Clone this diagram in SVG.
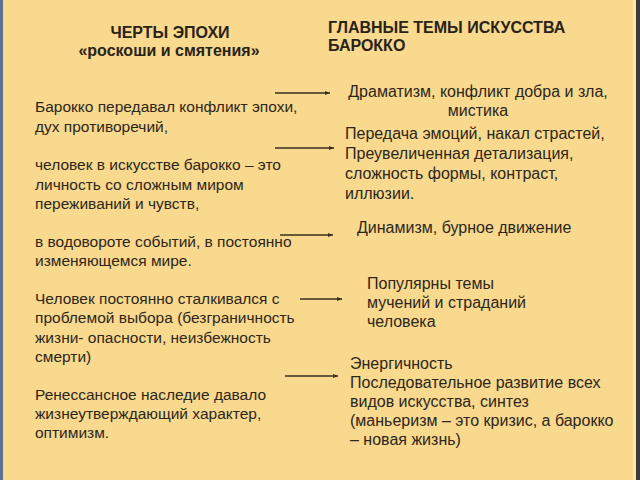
<svg xmlns="http://www.w3.org/2000/svg" width="640" height="480" viewBox="0 0 640 480">
<defs>
<marker id="ah" markerWidth="6" markerHeight="6" refX="5" refY="3" orient="auto" markerUnits="userSpaceOnUse">
<path d="M0,1 L5,3 L0,5 Z" fill="#3a2e20"/>
</marker>
<style>
.t{font-family:"Liberation Sans",Arial,sans-serif;font-size:15.5px;fill:#2e261b}
.r{font-family:"Liberation Sans",Arial,sans-serif;font-size:16px;fill:#2e261b}
.h{font-family:"Liberation Sans",Arial,sans-serif;font-size:16px;font-weight:bold;fill:#2a2218}
.c{stroke:#3a2e20;stroke-width:1.3;fill:none;marker-end:url(#ah)}
</style>
</defs>
<rect width="640" height="480" fill="#f8d98e"/>
<rect x="0" y="0" width="3" height="480" fill="#5d7290"/>
<rect x="633" y="0" width="3" height="480" fill="#fbe6ad"/>
<rect x="636" y="0" width="4" height="480" fill="#3c3a36"/>

<g id="header-left">
<text class="h" x="170" y="38" text-anchor="middle">ЧЕРТЫ ЭПОХИ</text>
<text class="h" x="169" y="56" text-anchor="middle">«роскоши и смятения»</text>
</g>
<g id="header-right">
<text class="h" x="328" y="33">ГЛАВНЫЕ ТЕМЫ ИСКУССТВА</text>
<text class="h" x="328" y="51">БАРОККО</text>
</g>

<g id="left1">
<text class="t" x="35" y="112">Барокко передавал конфликт эпохи,</text>
<text class="t" x="35" y="132">дух противоречий,</text>
</g>
<g id="left2">
<text class="t" x="35" y="170">человек в искусстве барокко – это</text>
<text class="t" x="35" y="190">личность со сложным миром</text>
<text class="t" x="35" y="209">переживаний и чувств,</text>
</g>
<g id="left3">
<text class="t" x="35" y="247">в водовороте событий, в постоянно</text>
<text class="t" x="35" y="266">изменяющемся мире.</text>
</g>
<g id="left4">
<text class="t" x="35" y="304">Человек постоянно сталкивался с</text>
<text class="t" x="35" y="323">проблемой выбора (безграничность</text>
<text class="t" x="35" y="343">жизни- опасности, неизбежность</text>
<text class="t" x="35" y="362">смерти)</text>
</g>
<g id="left5">
<text class="t" x="35" y="400">Ренессансное наследие давало</text>
<text class="t" x="35" y="419">жизнеутверждающий характер,</text>
<text class="t" x="35" y="438">оптимизм.</text>
</g>

<g id="right1">
<text class="r" x="478" y="97" text-anchor="middle">Драматизм, конфликт добра и зла,</text>
<text class="r" x="478" y="116" text-anchor="middle">мистика</text>
</g>
<g id="right2">
<text class="r" x="345" y="139">Передача эмоций, накал страстей,</text>
<text class="r" x="345" y="159">Преувеличенная детализация,</text>
<text class="r" x="345" y="179">сложность формы, контраст,</text>
<text class="r" x="345" y="199">иллюзии.</text>
</g>
<g id="right3">
<text class="r" x="357" y="233">Динамизм, бурное движение</text>
</g>
<g id="right4">
<text class="r" x="367" y="289">Популярны темы</text>
<text class="r" x="367" y="308">мучений и страданий</text>
<text class="r" x="367" y="327">человека</text>
</g>
<g id="right5">
<text class="r" x="350" y="369">Энергичность</text>
<text class="r" x="350" y="388">Последовательное развитие всех</text>
<text class="r" x="350" y="407">видов искусства, синтез</text>
<text class="r" x="350" y="426">(маньеризм – это кризис, а барокко</text>
<text class="r" x="350" y="445">– новая жизнь)</text>
</g>

<g id="connectors">
<line class="c" x1="275" y1="93" x2="330" y2="93"/>
<line class="c" x1="275" y1="148" x2="334" y2="148"/>
<line class="c" x1="280" y1="235" x2="333" y2="235"/>
<line class="c" x1="300" y1="299" x2="342" y2="299"/>
<line class="c" x1="285" y1="376" x2="338" y2="376"/>
</g>
</svg>
